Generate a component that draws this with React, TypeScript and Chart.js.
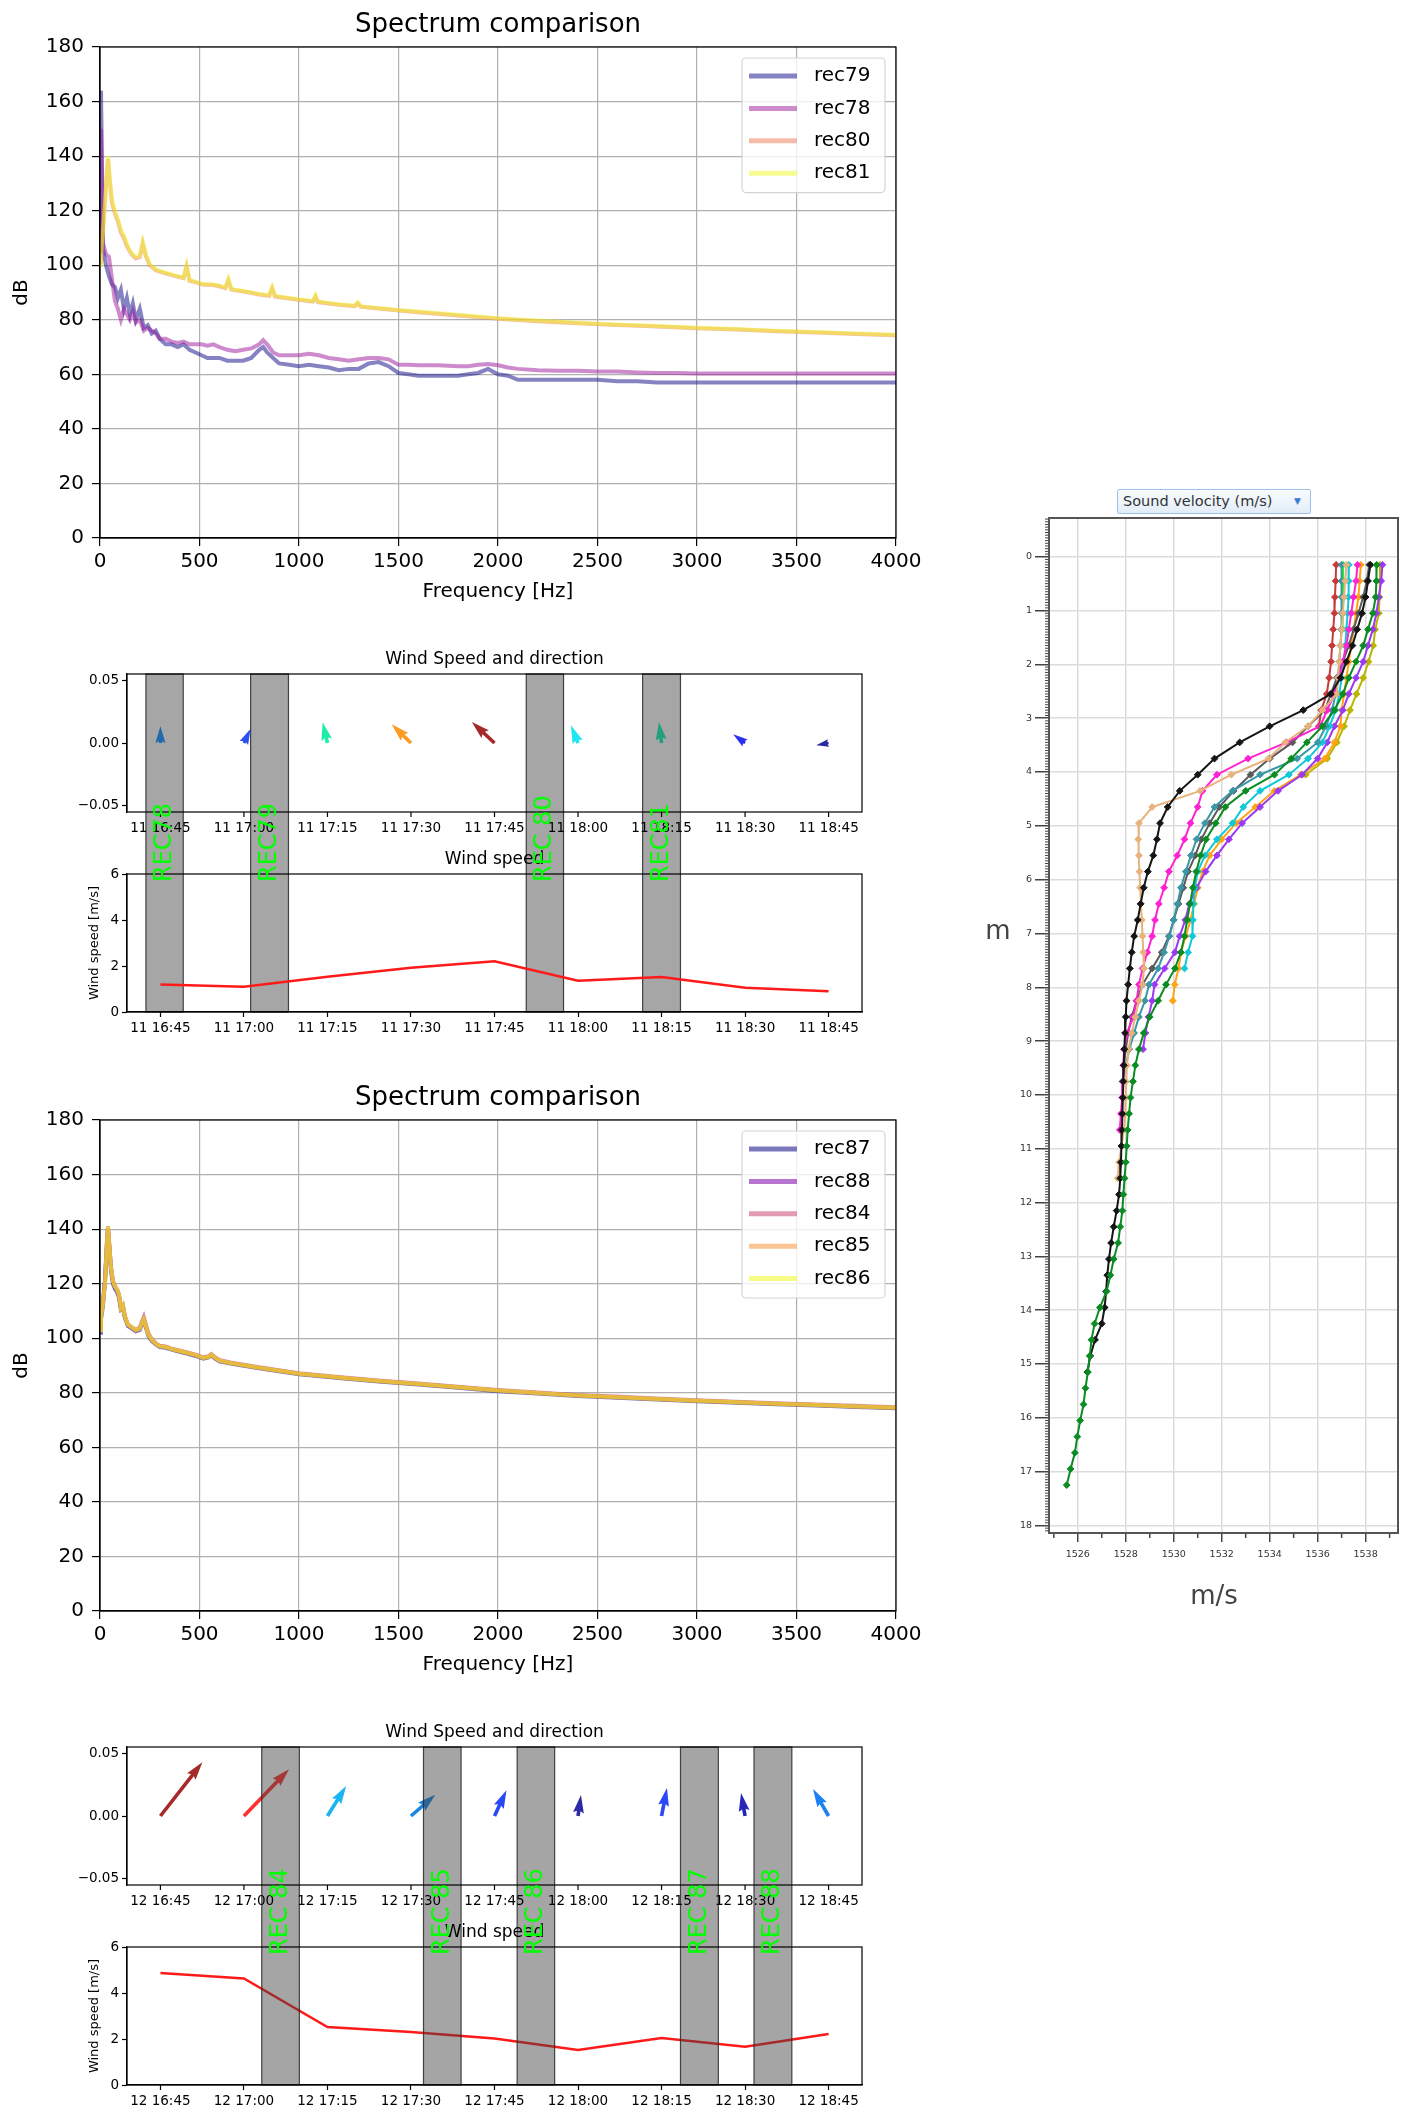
import React, { useEffect, useRef } from 'react';
import { Chart, registerables } from 'chart.js';

Chart.register(...registerables);

const FONT = "'DejaVu Sans', 'Liberation Sans', Arial, sans-serif";
Chart.defaults.font.family = FONT;
Chart.defaults.color = '#000';

// ---------------- Spectrum comparison (top) ----------------
const specFreqA = [0,5,15,30,45,60,75,90,105,120,135,150,165,180,200,220,240,260,280,300,330,360,390,420,450,480,510,540,570,600,640,680,720,760,800,820,840,870,900,950,1000,1050,1100,1150,1200,1250,1300,1350,1400,1450,1500,1550,1600,1700,1800,1850,1900,1950,2000,2050,2100,2200,2300,2400,2500,2600,2700,2800,2900,3000,3200,3400,3600,3800,4000];
const rec79 = [115,164,106,100,96,93,92,88,91,84, 88,82,86,80,84,77,78,75,76,73, 71,71,70,71,69,68,67,66,66,66, 65,65,65,66,69,70,68,66,64,63.5, 63,63.5,63,62.5,61.5,62,62,64,64.5,63, 60.5,60,59.5,59.5,59.5,60,60.5,62,60,59.5, 58,58,58,58,58,57.5,57.5,57,57,57, 57,57,57,57,57];
const rec78 = [105,150,108,104,103,95,87,84,80,84, 82,80,83,79,80,76,77,76,75,73, 73,72,71.5,72,71,71,71,70.5,71,70, 69,68.5,69,69.5,71,72.5,71,68,67,67, 67,67.5,67,66,65.5,65,65.5,66,66,65.5, 63.5,63.5,63.3,63.3,63,63,63.5,63.8,63.3,62.5, 62,61.5,61.3,61.3,61,61,60.7,60.5,60.5,60.3, 60.3,60.3,60.3,60.3,60.3];
const specFreqB = [0,5,15,30,40,50,60,75,90,105, 120,135,150,165,180,200,215,230,250,280, 320,380,420,435,450,480,520,560,600,630, 645,660,700,750,800,850,865,880,950,1000, 1070,1083,1095,1150,1200,1280,1296,1310,1400,1500, 1600,1800,2000,2200,2400,2600,2800,3000,3200,3400, 3600,3800,4000];
const rec80 = [101,105,113,129,139,130,123,119,116,112, 110,107,105,103.5,102.5,103,108,103.5,100,98.2, 97.2,96,95.3,99.5,94.3,93.8,92.8,92.8,92.3,91.6, 94.5,91.1,90.6,90,89.3,88.8,91.5,88.5,87.8,87.3, 86.7,88.5,86.5,86,85.5,85,86,84.8,84.1,83.4, 82.8,81.6,80.4,79.5,78.7,78.1,77.5,76.9,76.4,75.8, 75.3,74.8,74.3];
const rec81 = [100,104,112,128,140,131,124,120,117,113, 111,108,105.5,104,103,103.5,108.5,104,100.5,98.5, 97.5,96.2,95.5,100,94.5,94,93,93,92.5,91.8, 95,91.3,90.8,90.2,89.5,89,92,88.7,88,87.5, 86.9,89,86.7,86.2,85.7,85.2,86.5,85,84.3,83.6, 83,81.8,80.6,79.7,78.9,78.3,77.7,77.1,76.6,76, 75.5,75,74.5];

// ---------------- Spectrum comparison (bottom) ----------------
const specFreqC = [0,5,15,25,35,40,45,55,65,75, 85,95,105,115,125,140,160,180,200,210, 220,230,245,260,280,300,330,360,400,440, 480,520,545,560,575,600,650,700,800,900, 1000,1200,1400,1600,1800,2000,2200,2400,2600,2800, 3000,3200,3400,3600,3800,4000];
const rec87 = [102,107,112,121,134,140,135,125,120,118, 117,115,110.5,111,107.5,104.5,103.5,102.5,103,105, 106.5,104,100.5,99,97.7,96.8,96.5,95.8,95,94.3, 93.5,92.5,93,93.7,92.7,91.5,90.8,90.2,89,87.9, 86.8,85.4,84.1,83,81.8,80.6,79.7,78.8,78.2,77.5, 76.9,76.3,75.8,75.3,74.8,74.3];
const rec88 = [104,109,114,121,136,141,136,126,121,119, 118,116,111,112,108,105,104,103,103.5,105.5, 107.5,104.5,101,99.5,98,97,96.8,96,95.3,94.6, 93.8,92.8,93.2,94,93,91.8,91,90.4,89.2,88.1, 87,85.6,84.3,83.2,82,80.8,79.9,79,78.4,77.7, 77.1,76.5,76,75.5,75,74.5];
const rec84 = [103,108,113,120,135,140,135,126,121,119, 118,116,111,112,108,105,104,103,104,106, 107.5,105,101.5,99.8,98.2,97.2,97,96.2,95.5,94.8, 94,93,93.4,94.2,93.2,92,91.2,90.6,89.4,88.3, 87.2,85.8,84.5,83.4,82.2,81,80.1,79.2,78.6,77.9, 77.3,76.7,76.2,75.7,75.2,74.7];
const rec85 = [103,108,113,120,135,141,136,126,121,119, 118,116,111,112,108,105,104,103,103.5,105.5, 107,104.5,101,99.5,98,97,96.8,96,95.3,94.6, 93.8,92.8,93.2,94,93,91.8,91,90.4,89.2,88.1, 87,85.6,84.3,83.2,82,80.8,79.9,79,78.4,77.7, 77.1,76.5,76,75.5,75,74.5];
const rec86 = [103,108,113,120,135,141,136,126,121,119, 118,116,111,112,108,105,104,103,103.5,105.5, 107,104.5,101,99.5,98,97,96.8,96,95.3,94.6, 93.8,92.8,93.2,94,93,91.8,91,90.4,89.2,88.1, 87,85.6,84.3,83.2,82,80.8,79.9,79,78.4,77.7, 77.1,76.5,76,75.5,75,74.5];

// ---------------- Wind ----------------
const windTimes = ['16:45','17:00','17:15','17:30','17:45','18:00','18:15','18:30','18:45'];
const windTicks1 = ['11 16:45','11 17:00','11 17:15','11 17:30','11 17:45','11 18:00','11 18:15','11 18:30','11 18:45'];
const windTicks2 = ['12 16:45','12 17:00','12 17:15','12 17:30','12 17:45','12 18:00','12 18:15','12 18:30','12 18:45'];
const windSpeed1 = [1.2, 1.1, 1.53, 1.92, 2.21, 1.36, 1.52, 1.05, 0.9];
const windDir1 = [0, 25, -13, -46, -47, -22, -7, -54, -100];
const windColor1 = ['#1f6aae','#2a50f5','#1eeea5','#ff9a22','#a52a2a','#1ee6f2','#22a07c','#2a30f0','#2a2aa0'];
const windSpeed2 = [4.87, 4.63, 2.52, 2.3, 2.02, 1.52, 2.04, 1.66, 2.22];
const windDir2 = [38, 44, 32, 49, 25, 8, 11, -10, -30];
const windColor2 = ['#a52a2a','#ff3030','#1ab4f2','#1a85e2','#2a48f5','#2a2aa5','#2a48f5','#2626b8','#1a82f2'];
const recNames1 = ['REC78','REC79','REC 80','REC81'];
const recStart1 = ['16:42:24','17:01:12','17:50:42','18:11:36'];
const recEnd1 = ['16:49:06','17:08:00','17:57:24','18:18:24'];
const recNames2 = ['REC 84','REC 85','REC 86','REC 87','REC 88'];
const recStart2 = ['17:03:12','17:32:15','17:49:04','18:18:24','18:31:36'];
const recEnd2 = ['17:09:57','17:39:00','17:55:48','18:25:12','18:38:24'];
const quiverTicks = [-0.05, 0, 0.05];

// ---------------- Sound velocity profiles ----------------
const svDepth = [0.15,0.45,0.75,1.05,1.35,1.65,1.95,2.25,2.55,2.85,3.15,3.45,3.75,4.05,4.35,4.65,4.95,5.25,5.55,5.85,6.15,6.45,6.75,7.05,7.35,7.65,7.95,8.25,8.55,8.85,9.15,9.45,9.75,10.05,10.35,10.65,10.95,11.25,11.55,11.85,12.15,12.45,12.75,13.05,13.35,13.65,13.95,14.25,14.55,14.85,15.15,15.45,15.75,16.05,16.35,16.65,16.95,17.25];
const svGreen = [1538.46,1538.45,1538.42,1538.3,1538.1,1537.9,1537.6,1537.3,1537.05,1536.7,1536.2,1535.55,1534.9,1534.2,1533.0,1532.15,1531.75,1531.35,1531.12,1530.94,1530.8,1530.68,1530.56,1530.45,1530.3,1530.05,1529.68,1529.35,1529.0,1528.75,1528.55,1528.4,1528.3,1528.2,1528.14,1528.08,1528.04,1528.0,1527.95,1527.9,1527.86,1527.77,1527.68,1527.5,1527.36,1527.2,1526.92,1526.7,1526.57,1526.5,1526.42,1526.32,1526.24,1526.1,1525.98,1525.88,1525.7,1525.54];
const svBlack = [1538.2,1538.1,1538.0,1537.85,1537.65,1537.45,1537.2,1536.95,1536.55,1535.4,1534.0,1532.75,1531.7,1531.0,1530.25,1529.75,1529.43,1529.3,1529.15,1528.92,1528.75,1528.62,1528.5,1528.35,1528.25,1528.17,1528.1,1528.03,1528.0,1527.97,1527.94,1527.92,1527.9,1527.88,1527.86,1527.84,1527.82,1527.8,1527.77,1527.72,1527.62,1527.5,1527.39,1527.3,1527.23,1527.18,1527.12,1527.0,1526.72,1526.52,1526.4];
const svTan = [1537.2,1537.15,1537.1,1537.05,1537.0,1536.95,1536.9,1536.85,1536.8,1536.2,1535.6,1534.65,1533.95,1532.4,1531.1,1529.1,1528.55,1528.52,1528.55,1528.57,1528.6,1528.63,1528.67,1528.7,1528.73,1528.76,1528.7,1528.55,1528.4,1528.25,1528.12,1528.05,1528.02,1528.0,1527.98,1527.92,1527.82,1527.72,1527.66];
const svMagenta = [1537.66,1537.6,1537.5,1537.4,1537.3,1537.2,1537.05,1536.9,1536.7,1536.4,1536.1,1534.7,1533.1,1531.8,1531.2,1531.0,1530.7,1530.45,1530.15,1529.8,1529.6,1529.38,1529.22,1529.1,1528.9,1528.7,1528.55,1528.45,1528.32,1528.05,1527.93,1527.9,1527.88,1527.85,1527.8,1527.75];
const svTeal = [1537.0,1537.0,1537.0,1537.0,1536.98,1536.95,1536.9,1536.85,1536.75,1536.6,1536.35,1536.0,1535.15,1533.6,1532.45,1531.7,1531.3,1530.95,1530.72,1530.5,1530.3,1530.15,1530.0,1529.82,1529.6,1529.35,1528.97,1528.8,1528.55,1528.35,1528.15,1528.0,1527.86];
const svGray = [1538.15,1538.05,1537.9,1537.7,1537.5,1537.3,1537.05,1536.8,1536.55,1536.3,1535.6,1534.95,1534.0,1533.2,1532.5,1531.9,1531.5,1531.15,1530.9,1530.6,1530.4,1530.2,1530.0,1529.8,1529.5,1529.1,1528.7,1528.45,1528.25,1528.1,1528.0,1527.92];
const svCyan = [1537.3,1537.3,1537.28,1537.25,1537.2,1537.15,1537.1,1537.0,1536.9,1536.75,1536.5,1536.2,1535.6,1534.8,1533.6,1532.9,1532.45,1531.8,1531.3,1531.0,1530.88,1530.82,1530.8,1530.78,1530.6,1530.45];
const svPurple = [1538.7,1538.65,1538.55,1538.45,1538.3,1538.1,1537.9,1537.6,1537.3,1537.05,1536.7,1536.4,1536.0,1535.35,1534.35,1533.6,1532.85,1532.3,1531.8,1531.33,1530.95,1530.65,1530.48,1530.25,1530.05,1529.62,1529.2,1529.1,1528.95,1528.82,1528.72];
const svOrange = [1537.8,1537.75,1537.7,1537.6,1537.5,1537.4,1537.3,1537.2,1537.1,1537.0,1536.95,1536.7,1536.3,1535.3,1534.2,1533.4,1532.6,1532.0,1531.5,1531.2,1531.0,1530.85,1530.7,1530.5,1530.3,1530.2,1530.04,1529.96];
const svOlive = [1538.6,1538.6,1538.58,1538.55,1538.4,1538.32,1538.12,1537.9,1537.62,1537.35,1537.1,1536.8,1536.4,1535.5];
const svRed = [1536.77,1536.75,1536.72,1536.7,1536.65,1536.6,1536.56,1536.48,1536.38,1536.15,1536.05];
const svLime = [1537.06,1537.06,1537.06,1537.05,1537.03];
const svTicksX = [1526,1528,1530,1532,1534,1536,1538];
const svTicksY = [0,1,2,3,4,5,6,7,8,9,10,11,12,13,14,15,16,17,18];

const svSeries = [
  { v: svGreen, color: '#0a8c22' },
  { v: svBlack, color: '#151515' },
  { v: svTan, color: '#e8b27c' },
  { v: svMagenta, color: '#ff22d4' },
  { v: svTeal, color: '#3a98a6' },
  { v: svGray, color: '#5a5a5a' },
  { v: svCyan, color: '#10c8d8' },
  { v: svPurple, color: '#9c38f2' },
  { v: svOrange, color: '#ffa414' },
  { v: svOlive, color: '#bab600' },
  { v: svRed, color: '#c83a3a' },
  { v: svLime, color: '#26f026' },
];

const spec1Series = [
  { label: 'rec79', freq: specFreqA, db: rec79, color: 'rgba(13,8,135,0.5)' },
  { label: 'rec78', freq: specFreqA, db: rec78, color: 'rgba(156,23,158,0.5)' },
  { label: 'rec80', freq: specFreqB, db: rec80, color: 'rgba(237,121,83,0.5)' },
  { label: 'rec81', freq: specFreqB, db: rec81, color: 'rgba(240,249,33,0.5)' },
];
const spec2Series = [
  { label: 'rec87', freq: specFreqC, db: rec87, color: 'rgba(13,8,135,0.55)' },
  { label: 'rec88', freq: specFreqC, db: rec88, color: 'rgba(126,3,168,0.55)' },
  { label: 'rec84', freq: specFreqC, db: rec84, color: 'rgba(204,71,120,0.55)' },
  { label: 'rec85', freq: specFreqC, db: rec85, color: 'rgba(248,149,64,0.55)' },
  { label: 'rec86', freq: specFreqC, db: rec86, color: 'rgba(240,249,33,0.55)' },
];

const toMin = (s: string) => {
  const p = s.split(':').map(Number);
  return p[0] * 60 + p[1] + (p[2] || 0) / 60 - (16 * 60 + 45);
};

const SPEC_W = 940;

function SpectrumChart({ top, title, series }: any) {
  const ref = useRef<HTMLCanvasElement>(null);
  useEffect(() => {
    const decor = {
      id: 'specDecor',
      afterDraw(chart: any) {
        const { ctx, chartArea: a } = chart;
        ctx.save();
        ctx.strokeStyle = '#000';
        ctx.lineWidth = 1.2;
        ctx.strokeRect(a.left, a.top, a.right - a.left, a.bottom - a.top);
        ctx.fillStyle = '#000';
        ctx.textAlign = 'center';
        ctx.textBaseline = 'middle';
        ctx.font = `26px ${FONT}`;
        ctx.fillText(title, (a.left + a.right) / 2, a.top - 22);
        ctx.font = `20px ${FONT}`;
        ctx.fillText('Frequency [Hz]', (a.left + a.right) / 2, a.bottom + 54);
        ctx.save();
        ctx.translate(a.left - 78, (a.top + a.bottom) / 2);
        ctx.rotate(-Math.PI / 2);
        ctx.fillText('dB', 0, 0);
        ctx.restore();
        const ds = chart.data.datasets;
        const rowH = 32.4, bw = 143, bh = ds.length * rowH + 5;
        const bx = a.right - 11 - bw, by = a.top + 11;
        ctx.beginPath();
        ctx.roundRect(bx, by, bw, bh, 4);
        ctx.fillStyle = 'rgba(255,255,255,0.8)';
        ctx.fill();
        ctx.strokeStyle = '#d4d4d4';
        ctx.lineWidth = 1.2;
        ctx.stroke();
        ds.forEach((d: any, i: number) => {
          const cy = by + 18 + i * rowH;
          ctx.beginPath();
          ctx.moveTo(bx + 7, cy);
          ctx.lineTo(bx + 55, cy);
          ctx.strokeStyle = d.borderColor;
          ctx.lineWidth = 5;
          ctx.stroke();
          ctx.fillStyle = '#000';
          ctx.textAlign = 'left';
          ctx.fillText(d.label, bx + 72, cy);
        });
        ctx.restore();
      },
    };
    const chart = new Chart(ref.current as HTMLCanvasElement, {
      type: 'line',
      data: {
        datasets: series.map((s: any, i: number) => ({
          label: s.label,
          data: s.freq.map((f: number, j: number) => ({ x: f, y: s.db[j] })),
          borderColor: s.color,
          borderWidth: 4,
          pointRadius: 0,
          tension: 0,
          order: series.length - i,
        })),
      },
      options: {
        responsive: false,
        animation: false,
        events: [],
        layout: { padding: { top: 47, right: SPEC_W - 896, left: 0, bottom: 0 } },
        plugins: { legend: { display: false }, tooltip: { enabled: false }, title: { display: false } },
        scales: {
          x: {
            type: 'linear', min: 0, max: 4000,
            ticks: { stepSize: 500, font: { size: 20 }, color: '#000', padding: 4, maxRotation: 0, autoSkip: false, callback: (v: any) => String(v) },
            grid: { color: '#b0b0b0', lineWidth: 1.2, tickLength: 8, tickColor: '#000', tickWidth: 1.2 },
            border: { display: true, color: '#000', width: 1.2 },
            afterFit: (s: any) => { s.height = 82; s.paddingLeft = 0; s.paddingRight = 0; },
          },
          y: {
            type: 'linear', min: 0, max: 180,
            ticks: { stepSize: 20, font: { size: 20 }, color: '#000', padding: 8 },
            grid: { color: '#b0b0b0', lineWidth: 1.2, tickLength: 8, tickColor: '#000', tickWidth: 1.2 },
            border: { display: true, color: '#000', width: 1.2 },
            afterFit: (s: any) => { s.width = 100; s.paddingTop = 0; s.paddingBottom = 0; },
          },
        },
      } as any,
      plugins: [decor],
    });
    return () => chart.destroy();
  }, []);
  return <canvas ref={ref} width={SPEC_W} height={620} style={{ position: 'absolute', left: 0, top, width: SPEC_W, height: 620 }} />;
}

function drawArrow(ctx: any, x: number, y: number, angDeg: number, L: number, w: number, color: string) {
  const hl = 5 * w, hal = 4.5 * w, hw = 3 * w;
  let pts: number[][];
  if (L >= hl) {
    pts = [[0, -w / 2], [L - hal, -w / 2], [L - hl, -hw / 2], [L, 0], [L - hl, hw / 2], [L - hal, w / 2], [0, w / 2]];
  } else {
    const s = L / hl;
    pts = [[0, -w / 2], [hl - hal, -w / 2], [0, -hw / 2], [hl, 0], [0, hw / 2], [hl - hal, w / 2], [0, w / 2]].map(([a, b]) => [a * s, b * s]);
  }
  const t = (angDeg * Math.PI) / 180;
  const dx = Math.sin(t), dy = -Math.cos(t);
  const px = -dy, py = dx;
  ctx.beginPath();
  pts.forEach(([a, b], i) => {
    const X = x + a * dx + b * px, Y = y + a * dy + b * py;
    if (i) ctx.lineTo(X, Y); else ctx.moveTo(X, Y);
  });
  ctx.closePath();
  ctx.fillStyle = color;
  ctx.fill();
}

const ARROW_PX = 14;

function WindChart({ top, height, tickLabels, speed, dir, colors, recNames, recStart, recEnd, bandsOver }: any) {
  const ref = useRef<HTMLCanvasElement>(null);
  useEffect(() => {
    const tMins = windTimes.map(toMin);
    const drawBands = (chart: any, fill: string) => {
      const { ctx, scales } = chart;
      const { x, yq, yw } = scales;
      ctx.save();
      recStart.forEach((s: string, i: number) => {
        const x0 = x.getPixelForValue(toMin(s));
        const x1 = x.getPixelForValue(toMin(recEnd[i]));
        ctx.fillStyle = fill;
        ctx.fillRect(x0, yq.top, x1 - x0, yw.bottom - yq.top);
        ctx.strokeStyle = 'rgba(40,40,40,0.85)';
        ctx.lineWidth = 1.2;
        ctx.strokeRect(x0, yq.top, x1 - x0, yw.bottom - yq.top);
      });
      ctx.restore();
    };
    const decor = {
      id: 'windDecor',
      beforeDraw(chart: any) {
        if (!bandsOver) drawBands(chart, '#a6a6a6');
      },
      afterDatasetsDraw(chart: any) {
        const ctx = chart.ctx;
        const meta = chart.getDatasetMeta(1);
        ctx.save();
        meta.data.forEach((pt: any, i: number) => drawArrow(ctx, pt.x, pt.y, dir[i], speed[i] * ARROW_PX, 3.6, colors[i]));
        ctx.restore();
        if (bandsOver) drawBands(chart, 'rgba(64,64,64,0.47)');
      },
      afterDraw(chart: any) {
        const { ctx, chartArea: a, scales } = chart;
        const { x, yq, yw } = scales;
        ctx.save();
        ctx.strokeStyle = '#000';
        ctx.lineWidth = 1.2;
        ctx.strokeRect(a.left, yq.top, a.right - a.left, yq.bottom - yq.top);
        ctx.strokeRect(a.left, yw.top, a.right - a.left, yw.bottom - yw.top);
        ctx.fillStyle = '#000';
        ctx.font = `13.5px ${FONT}`;
        ctx.textAlign = 'center';
        ctx.textBaseline = 'middle';
        tMins.forEach((t: number, i: number) => {
          const px = x.getPixelForValue(t);
          ctx.beginPath();
          ctx.moveTo(px, yq.bottom);
          ctx.lineTo(px, yq.bottom + 5);
          ctx.stroke();
          ctx.fillText(tickLabels[i], px, yq.bottom + 16);
        });
        ctx.font = `17px ${FONT}`;
        ctx.fillText('Wind Speed and direction', (a.left + a.right) / 2, yq.top - 14.5);
        ctx.fillText('Wind speed', (a.left + a.right) / 2, yw.top - 14.5);
        ctx.font = `13px ${FONT}`;
        ctx.save();
        ctx.translate(a.left - 32, (yw.top + yw.bottom) / 2);
        ctx.rotate(-Math.PI / 2);
        ctx.fillText('Wind speed [m/s]', 0, 0);
        ctx.restore();
        ctx.font = `24px ${FONT}`;
        ctx.fillStyle = '#00ff00';
        ctx.textAlign = 'left';
        recNames.forEach((n: string, i: number) => {
          const x0 = x.getPixelForValue(toMin(recStart[i]));
          const x1 = x.getPixelForValue(toMin(recEnd[i]));
          ctx.save();
          ctx.translate((x0 + x1) / 2, yw.top + 8);
          ctx.rotate(-Math.PI / 2);
          ctx.fillText(n, 0, 0);
          ctx.restore();
        });
        ctx.restore();
      },
    };
    const tickStyle = { drawOnChartArea: false, tickLength: 5, tickColor: '#000', tickWidth: 1.2 };
    const chart = new Chart(ref.current as HTMLCanvasElement, {
      type: 'line',
      data: {
        datasets: [
          { label: 'Wind speed', data: tMins.map((t: number, i: number) => ({ x: t, y: speed[i] })), yAxisID: 'yw', borderColor: '#ff1a1a', borderWidth: 2.5, pointRadius: 0, tension: 0 },
          { label: 'Wind direction', data: tMins.map((t: number) => ({ x: t, y: 0 })), yAxisID: 'yq', showLine: false, pointRadius: 0, pointHoverRadius: 0 },
        ],
      },
      options: {
        responsive: false,
        animation: false,
        events: [],
        layout: { padding: { top: 34, right: 38, left: 0, bottom: 0 } },
        plugins: { legend: { display: false }, tooltip: { enabled: false }, title: { display: false } },
        scales: {
          x: {
            type: 'linear', position: 'bottom', min: -6, max: 126,
            afterBuildTicks: (s: any) => { s.ticks = tMins.map((v: number) => ({ value: v })); },
            ticks: { callback: (_v: any, i: number) => tickLabels[i], font: { size: 13.5 }, color: '#000', padding: 3, maxRotation: 0, autoSkip: false },
            grid: tickStyle,
            border: { display: true, color: '#000', width: 1.2 },
            afterFit: (s: any) => { s.height = height - 372; s.paddingLeft = 0; s.paddingRight = 0; },
          },
          yq: {
            type: 'linear', axis: 'y', position: 'left', stack: 'wind', stackWeight: 138, weight: 3,
            min: -0.0553, max: 0.0553,
            afterBuildTicks: (s: any) => { s.ticks = quiverTicks.map((v) => ({ value: v })); },
            ticks: { callback: (v: any) => Number(v).toFixed(2).replace('-', '\u2212'), font: { size: 13.5 }, color: '#000', padding: 3 },
            grid: tickStyle,
            border: { display: true, color: '#000', width: 1.2 },
            afterFit: (s: any) => { s.width = 127; s.paddingTop = 0; s.paddingBottom = 0; },
          },
          ygap: {
            type: 'linear', axis: 'y', position: 'left', stack: 'wind', stackWeight: 62, weight: 2,
            min: 0, max: 1,
            ticks: { display: false },
            grid: { display: false },
            border: { display: false },
            afterFit: (s: any) => { s.width = 127; s.paddingTop = 0; s.paddingBottom = 0; },
          },
          yw: {
            type: 'linear', axis: 'y', position: 'left', stack: 'wind', stackWeight: 138, weight: 1,
            min: 0, max: 6,
            ticks: { stepSize: 2, font: { size: 13.5 }, color: '#000', padding: 3 },
            grid: tickStyle,
            border: { display: true, color: '#000', width: 1.2 },
            afterFit: (s: any) => { s.width = 127; s.paddingTop = 0; s.paddingBottom = 0; },
          },
        },
      } as any,
      plugins: [decor],
    });
    return () => chart.destroy();
  }, []);
  return <canvas ref={ref} width={900} height={height} style={{ position: 'absolute', left: 0, top, width: 900, height }} />;
}

function SoundVelocityChart() {
  const ref = useRef<HTMLCanvasElement>(null);
  useEffect(() => {
    const decor = {
      id: 'svDecor',
      afterDraw(chart: any) {
        const { ctx, chartArea: a, scales } = chart;
        const { x, y } = scales;
        ctx.save();
        ctx.strokeStyle = '#444';
        ctx.lineWidth = 1;
        for (let k = -14; k <= 362; k++) {
          if (k % 20 === 0) continue;
          const py = y.getPixelForValue(k * 0.05);
          if (py < a.top || py > a.bottom) continue;
          ctx.beginPath();
          ctx.moveTo(a.left - 4, py);
          ctx.lineTo(a.left, py);
          ctx.stroke();
        }
        ctx.lineWidth = 1.5;
        for (let v = 1525; v <= 1539; v += 2) {
          const px = x.getPixelForValue(v);
          ctx.beginPath();
          ctx.moveTo(px, a.bottom);
          ctx.lineTo(px, a.bottom + 5);
          ctx.stroke();
        }
        ctx.strokeStyle = '#555';
        ctx.lineWidth = 2;
        ctx.strokeRect(a.left, a.top, a.right - a.left, a.bottom - a.top);
        ctx.fillStyle = '#444';
        ctx.font = `26px ${FONT}`;
        ctx.textAlign = 'center';
        ctx.textBaseline = 'middle';
        ctx.fillText('m', a.left - 51, a.top + 414);
        ctx.fillText('m/s', a.left + 165, a.bottom + 64);
        ctx.restore();
      },
    };
    const gridStyle = { color: '#dcdcdc', lineWidth: 1.5, tickColor: '#444', tickWidth: 1.5 };
    const chart = new Chart(ref.current as HTMLCanvasElement, {
      type: 'scatter',
      data: {
        datasets: svSeries.map((s) => ({
          data: s.v.map((v: number, i: number) => ({ x: v, y: svDepth[i] })),
          borderColor: s.color,
          backgroundColor: s.color,
          pointBackgroundColor: s.color,
          pointBorderColor: s.color,
          borderWidth: 2,
          pointStyle: 'rectRot',
          pointRadius: 3.4,
          pointBorderWidth: 1,
          showLine: true,
          tension: 0,
        })),
      },
      options: {
        responsive: false,
        animation: false,
        events: [],
        layout: { padding: { top: 58, right: 21, left: 0, bottom: 0 } },
        plugins: { legend: { display: false }, tooltip: { enabled: false }, title: { display: false } },
        scales: {
          x: {
            type: 'linear', min: 1524.8, max: 1539.35,
            afterBuildTicks: (s: any) => { s.ticks = svTicksX.map((v) => ({ value: v })); },
            ticks: { font: { size: 9.5 }, color: '#333', padding: 7, maxRotation: 0, autoSkip: false, callback: (v: any) => String(v) },
            grid: { ...gridStyle, tickLength: 9 },
            border: { display: true, color: '#444', width: 2 },
            afterFit: (s: any) => { s.height = 107; s.paddingLeft = 0; s.paddingRight = 0; },
          },
          y: {
            type: 'linear', reverse: true, min: -0.72, max: 18.14,
            afterBuildTicks: (s: any) => { s.ticks = svTicksY.map((v) => ({ value: v })); },
            ticks: { font: { size: 9.5 }, color: '#333', padding: 3, autoSkip: false },
            grid: { ...gridStyle, tickLength: 14 },
            border: { display: true, color: '#444', width: 2 },
            afterFit: (s: any) => { s.width = 99; s.paddingTop = 0; s.paddingBottom = 0; },
          },
        },
      } as any,
      plugins: [decor],
    });
    return () => chart.destroy();
  }, []);
  return <canvas ref={ref} width={469} height={1180} style={{ position: 'absolute', left: 950, top: 460, width: 469, height: 1180 }} />;
}

export default function App() {
  return (
    <div style={{ position: 'relative', width: 1419, height: 2113, background: '#fff', overflow: 'hidden' }}>
      <style>{'body{margin:0;background:#fff;}'}</style>
      <SpectrumChart top={0} title="Spectrum comparison" series={spec1Series} />
      <WindChart top={640} height={410} tickLabels={windTicks1} speed={windSpeed1} dir={windDir1} colors={windColor1}
        recNames={recNames1} recStart={recStart1} recEnd={recEnd1} bandsOver={false} />
      <SpectrumChart top={1073} title="Spectrum comparison" series={spec2Series} />
      <WindChart top={1713} height={400} tickLabels={windTicks2} speed={windSpeed2} dir={windDir2} colors={windColor2}
        recNames={recNames2} recStart={recStart2} recEnd={recEnd2} bandsOver={true} />
      <div style={{ position: 'absolute', left: 1117, top: 489, width: 194, height: 25, boxSizing: 'border-box', border: '1px solid #9cc2ea', borderRadius: 2, background: 'linear-gradient(#f9fcff,#e2edf9)', fontFamily: FONT, fontSize: 14.5, color: '#333', lineHeight: '23px', paddingLeft: 5, whiteSpace: 'nowrap' }}>
        Sound velocity (m/s)
        <span style={{ position: 'absolute', right: 9, top: 0, color: '#3a7bd5', fontSize: 9 }}>▼</span>
      </div>
      <SoundVelocityChart />
    </div>
  );
}
